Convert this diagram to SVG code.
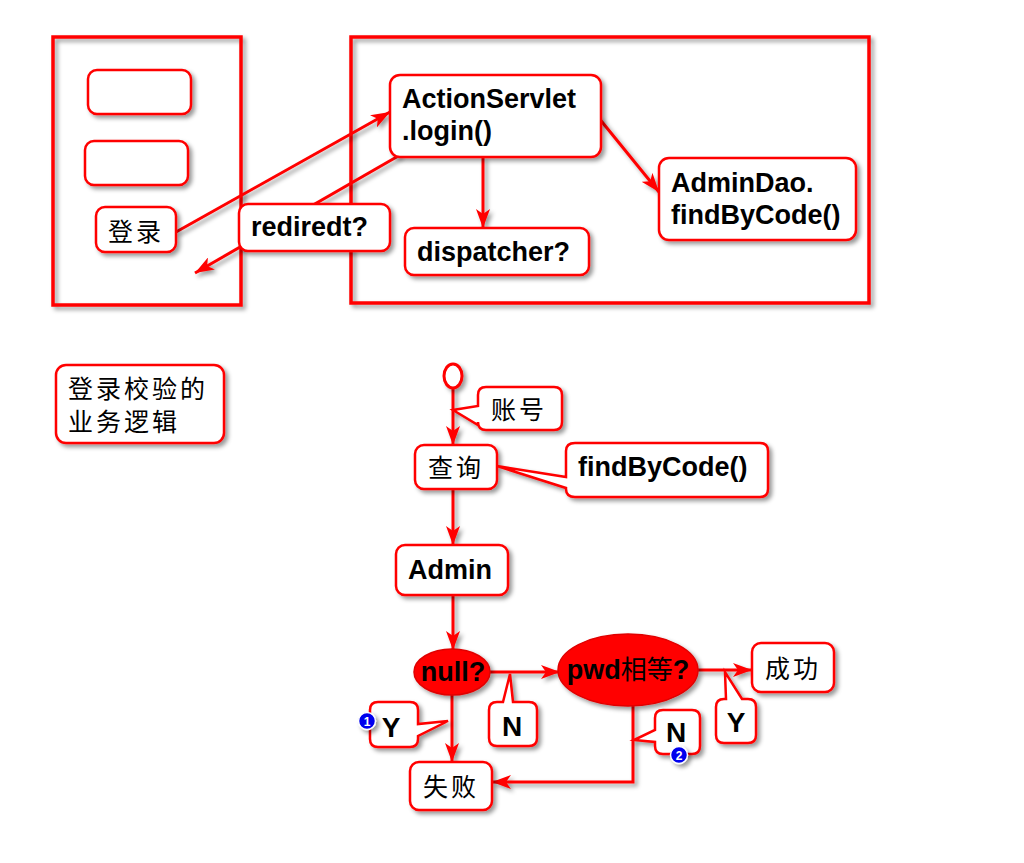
<svg xmlns="http://www.w3.org/2000/svg" width="1024" height="863" viewBox="0 0 1024 863">
<defs>
<filter id="sh" filterUnits="userSpaceOnUse" x="0" y="0" width="1024" height="863">
<feDropShadow dx="3" dy="3" stdDeviation="2" flood-color="#000" flood-opacity="0.4"/>
</filter>
<marker id="ah" markerUnits="userSpaceOnUse" markerWidth="20" markerHeight="14" refX="19" refY="7" orient="auto">
<path d="M0,0 L19,7 L0,14 L5,7 Z" fill="#ff0000"/>
</marker>
<style>
.frame{fill:none;stroke:#ff0000;stroke-width:3.5;filter:url(#sh)}
.box{fill:#fff;stroke:#ff0000;stroke-width:2.5;filter:url(#sh)}
.ell{fill:#ff0000;stroke:#e00000;stroke-width:1.5;filter:url(#sh)}
.arr{fill:none;stroke:#ff0000;stroke-width:3;marker-end:url(#ah);filter:url(#sh)}
.en{font-family:"Liberation Sans",Arial,sans-serif;font-weight:bold;font-size:27px;fill:#000}
.yn{font-family:"Liberation Sans",Arial,sans-serif;font-weight:bold;font-size:28px;fill:#000}
.cn{font-family:"Noto Sans CJK SC","Noto Sans CJK JP",sans-serif;font-size:25px;letter-spacing:3px;fill:#000}
.badge{fill:#0000ee;stroke:#fff;stroke-width:1.5;filter:url(#sh)}
.bt{font-family:"Liberation Sans",Arial,sans-serif;font-weight:bold;font-size:12px;fill:#fff}
</style>
</defs>

<g id="frame-left"><rect class="frame" x="53" y="37" width="188" height="268"/></g>
<g id="frame-right"><rect class="frame" x="351" y="37" width="518" height="266"/></g>

<g id="connectors">
<path class="arr" d="M176,232 L390,112"/>
<path class="arr" d="M400,155 L195,273"/>
<path class="arr" d="M483,157 L483,228"/>
<path class="arr" d="M598,117 L659,192"/>
<path class="arr" d="M453,388 L453,445"/>
<path class="arr" d="M453,489 L453,545"/>
<path class="arr" d="M453,595 L453,650"/>
<path class="arr" d="M490,672 L560,672"/>
<path class="arr" d="M698,670 L752,670"/>
<path class="arr" d="M452,695 L452,762"/>
<path class="arr" d="M633,705 L633,782 L492,782"/>
</g>

<g id="input1"><rect class="box" x="88" y="70" width="103" height="44" rx="9"/></g>
<g id="input2"><rect class="box" x="85" y="141" width="103" height="44" rx="9"/></g>
<g id="login-btn"><rect class="box" x="96" y="207" width="80" height="45" rx="9"/><text class="cn" x="108" y="241">登录</text></g>

<g id="action-servlet"><rect class="box" x="390" y="75" width="211" height="82" rx="10"/>
<text class="en" x="402" y="108">ActionServlet</text><text class="en" x="402" y="140">.login()</text></g>
<g id="redirect"><rect class="box" x="239" y="204" width="151" height="47" rx="9"/><text class="en" x="251" y="236">rediredt?</text></g>
<g id="dispatcher"><rect class="box" x="405" y="228" width="184" height="47" rx="9"/><text class="en" x="417" y="261">dispatcher?</text></g>
<g id="admindao"><rect class="box" x="659" y="158" width="197" height="82" rx="10"/>
<text class="en" x="671" y="192">AdminDao.</text><text class="en" x="671" y="224">findByCode()</text></g>

<g id="title"><rect class="box" x="56" y="365" width="168" height="78" rx="10"/>
<text class="cn" x="68" y="398">登录校验的</text><text class="cn" x="68" y="431">业务逻辑</text></g>

<g id="start"><ellipse cx="453" cy="376" rx="9" ry="12" fill="#fff" stroke="#ff0000" stroke-width="3" filter="url(#sh)"/></g>

<g id="account-callout"><path class="box" d="M486,387 H554 Q562,387 562,395 V422 Q562,430 554,430 H486 Q478,430 478,422 V425 L453,410 L478,406 V395 Q478,387 486,387 Z"/>
<text class="cn" x="491" y="419">账号</text></g>

<g id="query"><rect class="box" x="415" y="445" width="82" height="44" rx="9"/><text class="cn" x="428" y="477">查询</text></g>

<g id="findbycode-callout"><path class="box" d="M575,443 H760 Q768,443 768,451 V489 Q768,497 760,497 H575 Q566,497 566,489 V488 L497,466 L566,477 V451 Q566,443 575,443 Z"/>
<text class="en" x="578" y="476">findByCode()</text></g>

<g id="admin"><rect class="box" x="396" y="545" width="112" height="50" rx="9"/><text class="en" x="408" y="579">Admin</text></g>

<g id="null-check"><ellipse class="ell" cx="452" cy="672" rx="38" ry="23"/><text class="en" x="453" y="681" text-anchor="middle" font-size="26">null?</text></g>

<g id="pwd-check"><ellipse class="ell" cx="628" cy="670" rx="70" ry="36"/>
<text x="628" y="679" text-anchor="middle" fill="#000"><tspan font-family="Liberation Sans, sans-serif" font-weight="bold" font-size="27">pwd</tspan><tspan font-family="Noto Sans CJK SC, sans-serif" font-size="26">相等</tspan><tspan font-family="Liberation Sans, sans-serif" font-weight="bold" font-size="27">?</tspan></text></g>

<g id="success"><rect class="box" x="752" y="643" width="82" height="49" rx="9"/><text class="cn" x="765" y="678">成功</text></g>

<g id="fail"><rect class="box" x="410" y="762" width="82" height="48" rx="9"/><text class="cn" x="423" y="796">失败</text></g>

<g id="y1-callout"><path class="box" d="M378,702 H410 Q418,702 418,710 V724 L448,721 L418,736 V739 Q418,747 410,747 H378 Q370,747 370,739 V710 Q370,702 378,702 Z"/>
<text class="yn" x="391" y="737" text-anchor="middle">Y</text>
<circle class="badge" cx="367" cy="721" r="8.5"/><text class="bt" x="367" y="725.5" text-anchor="middle">1</text></g>

<g id="n1-callout"><path class="box" d="M497,702 H503 L510,674 L513,702 H529 Q537,702 537,710 V738 Q537,746 529,746 H497 Q489,746 489,738 V710 Q489,702 497,702 Z"/>
<text class="yn" x="512" y="736" text-anchor="middle">N</text></g>

<g id="n2-callout"><path class="box" d="M663,710 H692 Q700,710 700,718 V746 Q700,754 692,754 H663 Q655,754 655,746 V742 L634,740 L655,730 V718 Q655,710 663,710 Z"/>
<text class="yn" x="676" y="742" text-anchor="middle">N</text>
<circle class="badge" cx="679" cy="755" r="8.5"/><text class="bt" x="679" y="759.5" text-anchor="middle">2</text></g>

<g id="y2-callout"><path class="box" d="M724,699 H726 L725,672 L742,699 H748 Q756,699 756,707 V735 Q756,743 748,743 H724 Q716,743 716,735 V707 Q716,699 724,699 Z"/>
<text class="yn" x="736" y="732" text-anchor="middle">Y</text></g>
</svg>
